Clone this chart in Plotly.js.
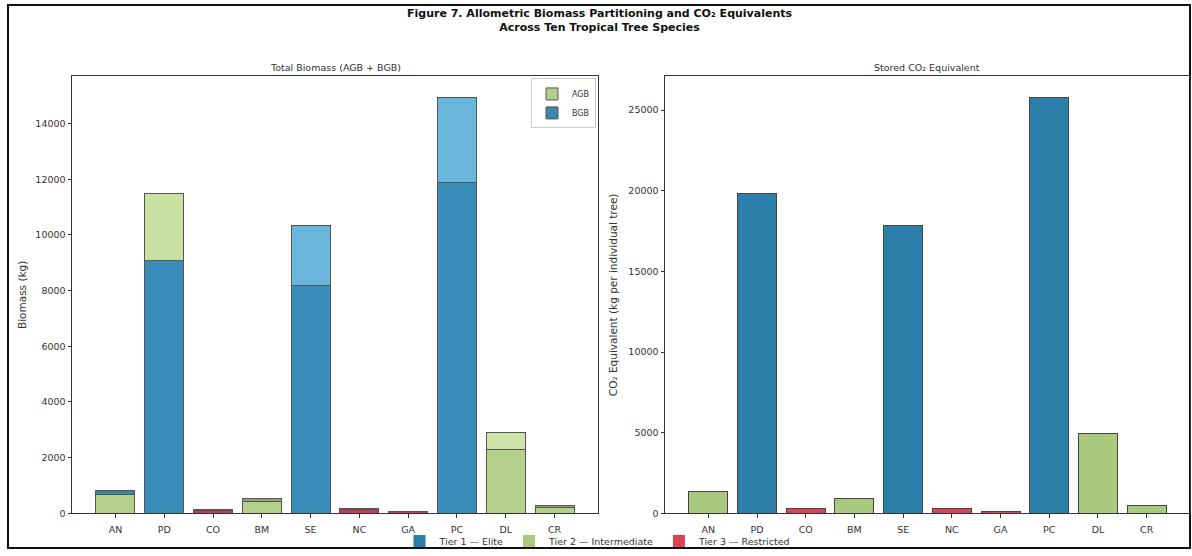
<!DOCTYPE html>
<html>
<head>
<meta charset="utf-8">
<script src="https://cdn.plot.ly/plotly-3.0.1.min.js"></script>
<style>
  html, body { margin: 0; padding: 0; background: #fff; }
  #chart { width: 1192px; height: 556px; }
</style>
</head>
<body>
<div id="chart"></div>
<script>
// Species codes along the x axis
const species = ["AN", "PD", "CO", "BM", "SE", "NC", "GA", "PC", "DL", "CR"];

// Above-ground and below-ground biomass per tree (kg)
const agb = [680, 9100, 100, 430, 8200, 130, 50, 11900, 2300, 220];
const bgb = [140, 2400, 50, 90, 2150, 40, 30, 3050, 600, 70];

// Stored CO2 equivalent per tree (kg)
const co2 = [1380, 19800, 270, 900, 17850, 290, 135, 25800, 4950, 500];

// Conservation tier of each species (1 = Elite, 2 = Intermediate, 3 = Restricted)
const tier = [2, 1, 3, 2, 1, 3, 3, 1, 2, 2];
const tierNames = ["Tier 1 \u2014 Elite", "Tier 2 \u2014 Intermediate", "Tier 3 \u2014 Restricted"];

// Colours
const tierColors = {1: "#2b7fa8", 2: "#a8c97e", 3: "#dc4456"};
const agbColors = {1: "#3a8db8", 2: "#b3d08a", 3: "#c93a50"};
const bgbColors = ["#3a86ad", "#c9e1a2", "#d2566a", "#8fa866", "#6ab5dc",
                   "#8e3c4a", "#555555", "#6ab5dc", "#cde3a8", "#8fa866"];

const W = 1192, H = 556;
const px = v => v / W;
const py = v => 1 - v / H;

const FAM = "DejaVu Sans, sans-serif";
const tickFont = {family: FAM, size: 9.5, color: "#333"};
const axTitleFont = {family: FAM, size: 10.5, color: "#333"};

const traces = [
  {
    type: "bar", name: "AGB", x: species, y: agb,
    xaxis: "x", yaxis: "y", legend: "legend",
    marker: {color: tier.map(t => agbColors[t]), line: {color: "#555", width: 1}},
    hoverinfo: "x+y+name"
  },
  {
    type: "bar", name: "BGB", x: species, y: bgb,
    xaxis: "x", yaxis: "y", legend: "legend",
    marker: {color: bgbColors, line: {color: "#555", width: 1}},
    hoverinfo: "x+y+name"
  },
  {
    type: "bar", name: "CO\u2082", x: species, y: co2,
    xaxis: "x2", yaxis: "y2", showlegend: false,
    marker: {color: tier.map(t => tierColors[t]), line: {color: "#444", width: 1}},
    width: 0.8
  }
];

// Tier key entries
tierNames.forEach((nm, i) => {
  traces.push({
    type: "bar", name: nm, x: [null], y: [null],
    xaxis: "x2", yaxis: "y2", legend: "legend2",
    marker: {color: tierColors[i + 1]}
  });
});

const yTop = 77, yBot = 517;

const axisCommon = {
  showgrid: false, zeroline: false,
  showline: true, linecolor: "#333", linewidth: 1, mirror: true,
  ticks: "outside", ticklen: 3.5, tickwidth: 1, tickcolor: "#333",
  tickfont: tickFont
};

const layout = {
  width: W, height: H,
  margin: {l: 0, r: 0, t: 0, b: 0},
  paper_bgcolor: "#fff", plot_bgcolor: "#fff",
  barmode: "stack", bargap: 0.2,
  font: tickFont,
  xaxis: Object.assign({}, axisCommon, {
    domain: [px(72), px(598)], anchor: "y",
    range: [-0.89, 9.89], type: "category", ticklabelstandoff: 4
  }),
  yaxis: Object.assign({}, axisCommon, {
    domain: [py(yBot), py(yTop)], anchor: "x",
    range: [0, 15697], tickvals: [0, 2000, 4000, 6000, 8000, 10000, 12000, 14000],
    tickformat: "d",
    title: {text: "Biomass (kg)", font: axTitleFont, standoff: 6}
  }),
  xaxis2: Object.assign({}, axisCommon, {
    domain: [px(665), px(1190)], anchor: "y2",
    range: [-0.89, 9.89], type: "category", ticklabelstandoff: 4
  }),
  yaxis2: Object.assign({}, axisCommon, {
    domain: [py(yBot), py(yTop)], anchor: "x2",
    range: [0, 27090], tickvals: [0, 5000, 10000, 15000, 20000, 25000],
    tickformat: "d",
    title: {text: "CO\u2082 Equivalent (kg per individual tree)", font: axTitleFont, standoff: 8}
  }),
  legend: {
    x: px(596), y: py(79), xanchor: "right", yanchor: "top",
    bgcolor: "rgba(255,255,255,0.8)", bordercolor: "#ccc", borderwidth: 1,
    font: {family: FAM, size: 8, color: "#333"},
    itemwidth: 30, tracegroupgap: 0, traceorder: "normal"
  },
  legend2: {
    orientation: "h", traceorder: "normal",
    x: px(598), y: py(545), xanchor: "center", yanchor: "middle",
    bgcolor: "rgba(255,255,255,0)", borderwidth: 0,
    font: {family: FAM, size: 9.5, color: "#333"},
    itemwidth: 30
  },
  annotations: [
    {
      text: "<b>Figure 7. Allometric Biomass Partitioning and CO\u2082 Equivalents</b><br><b>Across Ten Tropical Tree Species</b>",
      xref: "paper", yref: "paper", x: px(600), y: py(21), xanchor: "center", yanchor: "middle",
      showarrow: false, font: {family: FAM, size: 11, color: "#111"}
    },
    {
      text: "Total Biomass (AGB + BGB)",
      xref: "paper", yref: "paper", x: px(335), y: py(68), xanchor: "center", yanchor: "middle",
      showarrow: false, font: {family: FAM, size: 9.5, color: "#333"}
    },
    {
      text: "Stored CO\u2082 Equivalent",
      xref: "paper", yref: "paper", x: px(927), y: py(68), xanchor: "center", yanchor: "middle",
      showarrow: false, font: {family: FAM, size: 9.5, color: "#333"}
    }
  ],
  shapes: [
    {
      type: "rect", xref: "paper", yref: "paper",
      x0: px(8), x1: px(1190), y0: py(552), y1: py(5),
      line: {color: "#111", width: 2}, fillcolor: "rgba(0,0,0,0)", layer: "below"
    }
  ],
  showlegend: true
};

Plotly.newPlot("chart", traces, layout, {displayModeBar: false, staticPlot: true});
</script>
</body>
</html>
